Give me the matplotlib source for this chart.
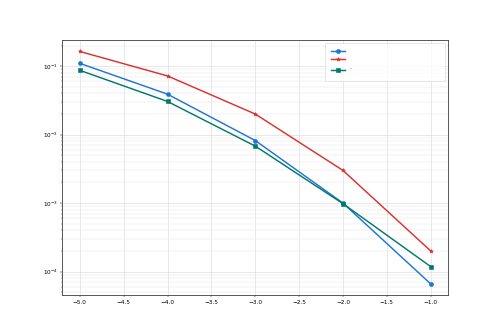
import matplotlib

matplotlib.use("Agg")
import matplotlib.pyplot as plt

x_values = [-5.0, -4.0, -3.0, -2.0, -1.0]
blue_values = [0.11, 0.039, 0.0082, 0.00100, 6.6e-5]
red_values = [0.164, 0.072, 0.020, 0.0030, 2.0e-4]
green_values = [0.087, 0.0305, 0.0068, 0.00098, 1.18e-4]
series_labels = [" " * 48, " " * 48, "." + " " * 47 + "\n "]


def main() -> None:
    figure, axis = plt.subplots(figsize=(12, 8))
    axis.plot(x_values, blue_values, color="#1f74d8", marker="o",
              markersize=7, linewidth=2.5, label=series_labels[0])
    axis.plot(x_values, red_values, color="#dc2f2f", marker="*",
              markersize=7, linewidth=2.5, label=series_labels[1])
    axis.plot(x_values, green_values, color="#00796b", marker="s",
              markersize=7, linewidth=2.5, label=series_labels[2])
    axis.set_yscale("log")
    axis.grid(True, which="major", color="#d8d8d8", linewidth=1.0)
    axis.grid(True, which="minor", axis="y", color="#e4e4e4", linewidth=0.8)
    for spine in axis.spines.values():
        spine.set_color("#444444")
        spine.set_linewidth(1.5)
    axis.legend(loc="upper right", fontsize=10, handlelength=2.5,
                borderpad=1.0, labelspacing=0.55)
    figure.savefig("out.png", dpi=41.5)
    plt.close(figure)


if __name__ == "__main__":
    main()
